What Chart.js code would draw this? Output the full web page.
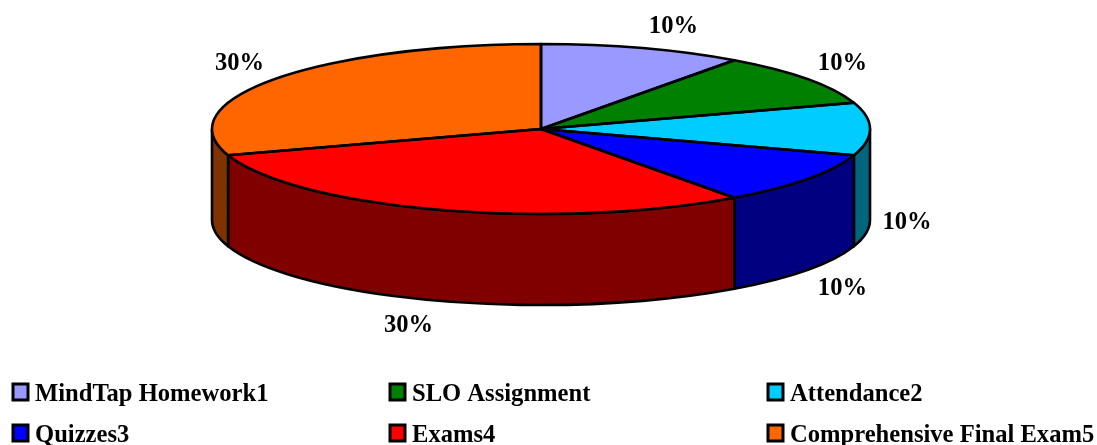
<!DOCTYPE html>
<html>
<head>
<meta charset="utf-8">
<style>html,body{margin:0;padding:0;background:#fff}canvas{display:block}</style>
<script src="https://cdn.jsdelivr.net/npm/chart.js@4"></script>
</head>
<body>
<canvas id="c" width="1097" height="445"></canvas>
<script>
const categories = ['MindTap Homework1','SLO Assignment','Attendance2','Quizzes3','Exams4','Comprehensive Final Exam5'];
const percentValues = [10,10,10,10,30,30];
const topColors = ['#9999FF','#008000','#00CCFF','#0000FF','#FF0000','#FF6600'];
const wallColors = ['#4D4D80','#004000','#006680','#000080','#800000','#803300'];

const RX = 329, RY = 85, CY = 129, DEPTH = 91;
const FONT = 'bold 24.6px "Liberation Serif"';

const pie3d = {
  id: 'pie3d',
  beforeDatasetsDraw(chart) {
    const ctx = chart.ctx;
    const arcs = chart.getDatasetMeta(0).data;
    const cx = arcs[0].x;
    ctx.save();
    ctx.strokeStyle = '#000';
    ctx.lineWidth = 2.6;
    ctx.lineJoin = 'round';
    arcs.forEach((arc, i) => {
      const a0 = Math.max(arc.startAngle, 0), a1 = Math.min(arc.endAngle, Math.PI);
      if (a1 <= a0) return;
      ctx.beginPath();
      ctx.ellipse(cx, CY, RX, RY, 0, a0, a1);
      ctx.ellipse(cx, CY + DEPTH, RX, RY, 0, a1, a0, true);
      ctx.closePath();
      ctx.fillStyle = wallColors[i];
      ctx.fill();
      ctx.stroke();
    });
    ctx.restore();
    ctx.save();
    ctx.translate(0, CY);
    ctx.scale(1, RY / RX);
    ctx.translate(0, -arcs[0].y);
  },
  afterDatasetsDraw(chart) {
    const ctx = chart.ctx;
    ctx.restore();
    const arcs = chart.getDatasetMeta(0).data;
    const cx = arcs[0].x;
    ctx.save();
    ctx.strokeStyle = '#000';
    ctx.lineWidth = 2.6;
    ctx.lineJoin = 'round';
    arcs.forEach(arc => {
      ctx.beginPath();
      ctx.moveTo(cx, CY);
      ctx.ellipse(cx, CY, RX, RY, 0, arc.startAngle, arc.endAngle);
      ctx.closePath();
      ctx.stroke();
    });
    // percentage labels
    ctx.fillStyle = '#000';
    ctx.font = FONT;
    ctx.textAlign = 'center';
    ctx.textBaseline = 'middle';
    arcs.forEach((arc, i) => {
      const mid = (arc.startAngle + arc.endAngle) / 2;
      const c = Math.cos(mid), s = Math.sin(mid);
      const x = cx + Math.sign(c || 1) * (28 + 338 * Math.abs(c));
      const lift = Math.abs(s) < 0.01 ? 0 : Math.sign(s) * 6;
      const y = CY + 102 * s + lift + (s > -0.01 ? DEPTH + 2 : 0);
      ctx.fillText(percentValues[i] + '%', x, y + 1);
    });
    // legend: three columns, two rows
    const colX = [13, 390, 768], rowY = [384, 425];
    ctx.textAlign = 'left';
    ctx.textBaseline = 'alphabetic';
    ctx.lineJoin = 'miter';
    categories.forEach((name, i) => {
      const x = colX[i % 3], y = rowY[Math.floor(i / 3)];
      ctx.fillStyle = topColors[i];
      ctx.fillRect(x, y, 15, 16);
      ctx.lineWidth = 3;
      ctx.strokeRect(x, y, 15, 16);
      ctx.fillStyle = '#000';
      ctx.fillText(name, x + 22, y + 17);
    });
    ctx.restore();
  }
};

new Chart(document.getElementById('c'), {
  type: 'pie',
  data: {
    labels: categories,
    datasets: [{ data: percentValues, backgroundColor: topColors, borderWidth: 0, radius: RX }]
  },
  options: {
    responsive: false,
    animation: false,
    layout: { padding: { right: 15 } },
    plugins: { legend: { display: false }, tooltip: { enabled: false } }
  },
  plugins: [pie3d]
});
</script>
</body>
</html>
